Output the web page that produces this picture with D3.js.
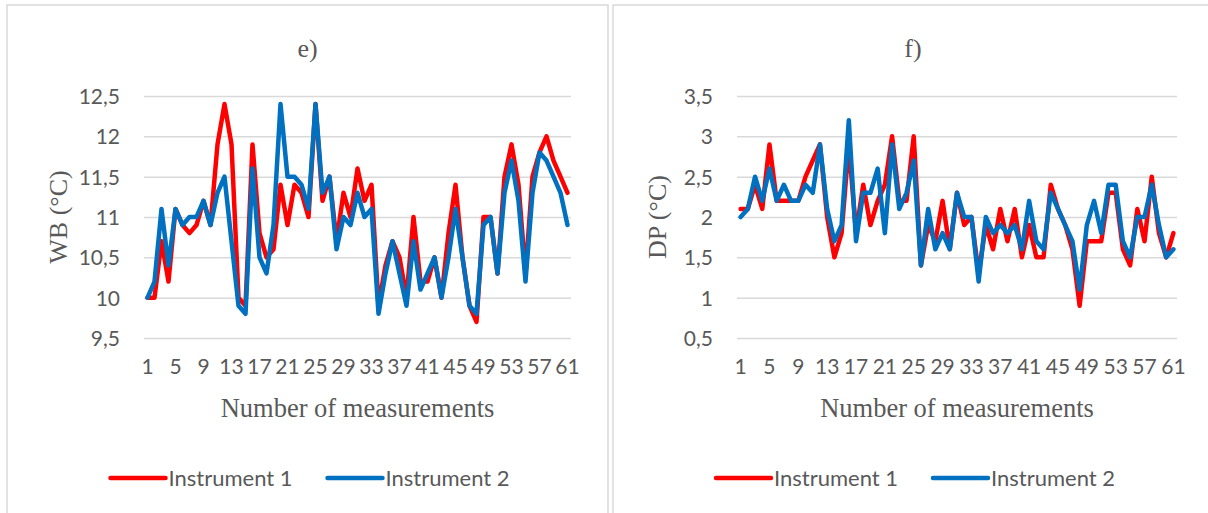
<!DOCTYPE html>
<html>
<head>
<meta charset="utf-8">
<script src="https://cdn.jsdelivr.net/npm/d3@7"></script>
<style>
  html, body { margin: 0; padding: 0; background: #fff; }
  svg { display: block; }
  .tick-label { font-family: Lato, "Open Sans", sans-serif; fill: #595959; }
  .serif { font-family: "Liberation Serif", "DejaVu Serif", serif; fill: #595959; }
</style>
</head>
<body>
<svg id="chart" width="1208" height="513"></svg>
<script>
// measurement numbers on the category axis
const measurements = d3.range(1, 62);
const xTickLabels = [1, 5, 9, 13, 17, 21, 25, 29, 33, 37, 41, 45, 49, 53, 57, 61];
const seriesNames = ["Instrument 1", "Instrument 2"];
const seriesColors = ["#ff0000", "#0070c0"];

// e) wet bulb
const wbTicks = [9.5, 10, 10.5, 11, 11.5, 12, 12.5];
const wbInstrument1 = [10.0, 10.0, 10.7, 10.2, 11.1, 10.9, 10.8, 10.9, 11.2, 10.9,
  11.9, 12.4, 11.9, 10.0, 9.9, 11.9, 10.8, 10.5, 10.6, 11.4,
  10.9, 11.4, 11.3, 11.0, 12.4, 11.2, 11.5, 10.7, 11.3, 11.0,
  11.6, 11.2, 11.4, 9.9, 10.4, 10.7, 10.5, 10.0, 11.0, 10.2,
  10.2, 10.5, 10.0, 10.8, 11.4, 10.5, 9.9, 9.7, 11.0, 11.0,
  10.3, 11.5, 11.9, 11.4, 10.3, 11.5, 11.8, 12.0, 11.7, 11.5, 11.3];
const wbInstrument2 = [10.0, 10.2, 11.1, 10.4, 11.1, 10.9, 11.0, 11.0, 11.2, 10.9,
  11.3, 11.5, 10.7, 9.9, 9.8, 11.6, 10.5, 10.3, 10.9, 12.4,
  11.5, 11.5, 11.4, 11.1, 12.4, 11.3, 11.5, 10.6, 11.0, 10.9,
  11.3, 11.0, 11.1, 9.8, 10.3, 10.7, 10.3, 9.9, 10.7, 10.1,
  10.3, 10.5, 10.0, 10.5, 11.1, 10.5, 9.9, 9.8, 10.9, 11.0,
  10.3, 11.3, 11.7, 11.2, 10.2, 11.3, 11.8, 11.7, 11.5, 11.3, 10.9];

// f) dew point
const dpTicks = [0.5, 1, 1.5, 2, 2.5, 3, 3.5];
const dpInstrument1 = [2.1, 2.1, 2.4, 2.1, 2.9, 2.2, 2.2, 2.2, 2.2, 2.5,
  2.7, 2.9, 2.0, 1.5, 1.8, 2.9, 1.8, 2.4, 1.9, 2.2,
  2.4, 3.0, 2.2, 2.2, 3.0, 1.4, 1.9, 1.7, 2.2, 1.6,
  2.3, 1.9, 2.0, 1.3, 1.9, 1.6, 2.1, 1.7, 2.1, 1.5,
  1.9, 1.5, 1.5, 2.4, 2.1, 1.9, 1.6, 0.9, 1.7, 1.7,
  1.7, 2.3, 2.3, 1.6, 1.4, 2.1, 1.7, 2.5, 1.8, 1.5, 1.8];
const dpInstrument2 = [2.0, 2.1, 2.5, 2.2, 2.6, 2.2, 2.4, 2.2, 2.2, 2.4,
  2.3, 2.9, 2.1, 1.7, 1.9, 3.2, 1.7, 2.3, 2.3, 2.6,
  1.8, 2.9, 2.1, 2.3, 2.7, 1.4, 2.1, 1.6, 1.8, 1.6,
  2.3, 2.0, 2.0, 1.2, 2.0, 1.8, 1.9, 1.8, 1.9, 1.6,
  2.2, 1.7, 1.6, 2.3, 2.1, 1.9, 1.7, 1.1, 1.9, 2.2,
  1.8, 2.4, 2.4, 1.7, 1.5, 2.0, 2.0, 2.4, 1.9, 1.5, 1.6];

const svg = d3.select("#chart");
svg.append("rect").attr("width", 1208).attr("height", 513).attr("fill", "#fff");

function drawPanel(p) {
  const g = svg.append("g");
  g.append("rect").attr("x", p.box[0]).attr("y", p.box[1]).attr("width", p.box[2]).attr("height", p.box[3])
    .attr("fill", "none").attr("stroke", "#d9d9d9").attr("stroke-width", 1.5);

  const x = d3.scaleBand().domain(measurements).range([p.left, p.right]);
  const y = d3.scaleLinear().domain([p.ticks[0], p.ticks[p.ticks.length - 1]]).range([p.bottom, p.top]);

  // gridlines + y labels
  const yAxis = g.append("g").attr("transform", `translate(${p.left},0)`)
    .call(d3.axisLeft(y).tickValues(p.ticks).tickSize(-(p.right - p.left)).tickPadding(24)
      .tickFormat(d => String(d).replace(".", ",")));
  yAxis.select(".domain").remove();
  yAxis.selectAll("line").attr("stroke", "#d9d9d9").attr("stroke-width", 1.5);
  yAxis.selectAll("text").attr("class", "tick-label").attr("font-size", 21).attr("dy", "0.35em");

  const xAxis = g.append("g").attr("transform", `translate(0,${p.bottom})`)
    .call(d3.axisBottom(x).tickValues(xTickLabels).tickSize(0).tickPadding(21));
  xAxis.select(".domain").remove();
  xAxis.selectAll("text").attr("class", "tick-label").attr("font-size", 21);

  const line = d3.line().x((d, i) => x(measurements[i]) + x.bandwidth() / 2).y(d => y(d));
  p.series.forEach((s, k) => {
    g.append("path").datum(s).attr("d", line).attr("fill", "none")
      .attr("stroke", seriesColors[k]).attr("stroke-width", 4.5)
      .attr("stroke-linejoin", "round").attr("stroke-linecap", "round");
  });

  const cx = (p.box[0] + p.box[0] + p.box[2]) / 2;
  g.append("text").attr("class", "serif").attr("x", cx).attr("y", 57).attr("text-anchor", "middle")
    .attr("font-size", 26).text(p.title);
  g.append("text").attr("class", "serif").attr("text-anchor", "middle").attr("font-size", 26)
    .attr("transform", `translate(${p.yTitleX},${(p.top + p.bottom) / 2}) rotate(-90)`).attr("dy", "0.35em")
    .text(p.yTitle);
  g.append("text").attr("class", "serif").attr("x", (p.left + p.right) / 2).attr("y", 417)
    .attr("text-anchor", "middle").attr("font-size", 26.5).text("Number of measurements");

  // legend
  const offsets = [-197, 20];
  seriesNames.forEach((name, k) => {
    const lx = cx + offsets[k] + p.legendShift;
    g.append("line").attr("x1", lx).attr("x2", lx + 55).attr("y1", 478).attr("y2", 478)
      .attr("stroke", seriesColors[k]).attr("stroke-width", 4.5).attr("stroke-linecap", "round");
    g.append("text").attr("class", "tick-label").attr("x", lx + 58).attr("y", 478).attr("dy", "0.35em")
      .attr("font-size", 22).text(name);
  });
}

drawPanel({
  box: [7, 5, 601, 540], left: 144, right: 571, top: 96, bottom: 338,
  ticks: wbTicks, series: [wbInstrument1, wbInstrument2],
  title: "e)", yTitle: "WB (°C)", yTitleX: 58, legendShift: 0
});
drawPanel({
  box: [613, 5, 600, 540], left: 737, right: 1177, top: 96, bottom: 338,
  ticks: dpTicks, series: [dpInstrument1, dpInstrument2],
  title: "f)", yTitle: "DP (°C)", yTitleX: 657, legendShift: 0
});
</script>
</body>
</html>
